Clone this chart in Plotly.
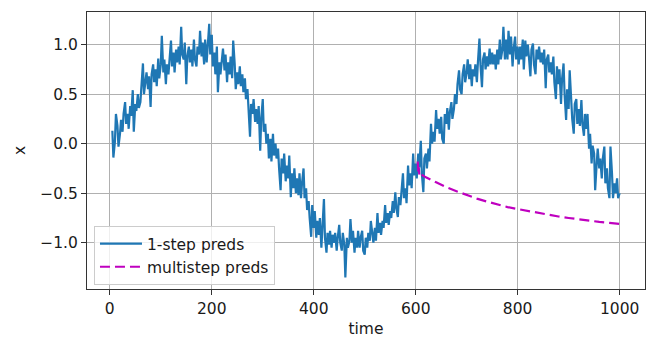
import plotly.graph_objects as go

# 1-step predictions, read at t = 5, 7, 10, 12, ..., 995, 997, 1000
onestep_time = []
for t in range(5, 1000, 5):
    onestep_time += [t, t + 2]
onestep_time.append(1000)

onestep_vals = [
    0.13, -0.14, 0.02, 0.30, 0.18, -0.03, 0.10, 0.24, 0.12, 0.30,
    0.42, 0.20, 0.30, 0.15, 0.38, 0.28, 0.54, 0.12, 0.40, 0.33,
    0.50, 0.36, 0.42, 0.55, 0.81, 0.50, 0.62, 0.72, 0.55, 0.68,
    0.37, 0.70, 0.80, 0.62, 0.75, 0.58, 0.86, 0.66, 0.80, 1.09,
    0.72, 0.85, 0.60, 0.80, 0.70, 0.88, 1.04, 0.78, 0.92, 0.72,
    0.95, 0.82, 0.98, 0.80, 1.18, 0.90, 0.85, 1.02, 0.60, 0.88,
    0.98, 0.82, 0.95, 0.78, 1.05, 0.85, 0.78, 0.98, 0.90, 1.14,
    0.88, 1.02, 0.80, 1.05, 0.82, 0.98, 1.21, 0.90, 1.10, 0.78,
    0.92, 0.70, 0.98, 0.52, 0.82, 0.70, 0.88, 0.96, 0.74, 0.90,
    0.62, 0.82, 0.70, 0.88, 0.66, 1.04, 0.80, 0.55, 0.72, 0.60,
    0.78, 0.58, 0.70, 0.52, 0.66, 0.45, 0.55, 0.30, 0.07, 0.40,
    0.30, 0.45, 0.22, 0.35, 0.20, 0.38, -0.07, 0.25, 0.45, 0.12,
    0.20, 0.00, 0.10, -0.15, 0.05, -0.18, 0.10, -0.12, 0.00, -0.15,
    -0.05, -0.25, -0.47, -0.15, -0.30, -0.10, -0.38, -0.22, -0.35, -0.12,
    -0.54, -0.30, -0.45, -0.25, -0.50, -0.35, -0.52, -0.30, -0.55, -0.40,
    -0.25, -0.55, -0.45, -0.67, -0.58, -0.75, -0.94, -0.62, -0.85, -0.68,
    -0.95, -0.78, -0.92, -0.75, -1.05, -0.85, -0.56, -0.95, -1.10, -0.90,
    -1.02, -0.88, -1.05, -0.92, -1.00, -0.90, -1.08, -0.95, -0.82, -1.00,
    -1.08, -0.90, -1.02, -1.35, -0.95, -1.05, -0.98, -0.76, -1.00, -0.88,
    -1.10, -0.95, -1.05, -0.88, -1.05, -0.95, -0.88, -1.08, -1.12, -0.95,
    -1.05, -0.90, -0.98, -0.78, -0.92, -1.00, -0.85, -0.98, -0.70, -0.90,
    -0.80, -0.92, -0.78, -0.85, -0.62, -0.80, -0.70, -0.82, -0.68, -0.75,
    -0.58, -0.70, -0.49, -0.65, -0.74, -0.54, -0.62, -0.45, -0.30, -0.55,
    -0.45, -0.60, -0.22, -0.42, -0.30, -0.45, -0.10, -0.32, -0.20, -0.35,
    -0.10, -0.24, 0.03, -0.30, -0.49, -0.15, -0.10, -0.25, -0.05, -0.18,
    0.20, 0.00, 0.12, 0.02, 0.34, 0.15, 0.25, 0.10, 0.27, 0.05,
    0.00, 0.30, 0.20, 0.36, 0.14, 0.32, 0.42, 0.25, 0.35, 0.50,
    0.40, 0.60, 0.74, 0.55, 0.50, 0.70, 0.80, 0.62, 0.72, 0.85,
    0.65, 0.80, 0.58, 0.75, 0.68, 0.80, 0.62, 0.82, 1.06, 0.80,
    0.57, 0.85, 0.92, 0.75, 0.88, 0.78, 0.96, 0.80, 0.92, 0.80,
    0.90, 0.75, 0.95, 0.80, 1.05, 0.85, 0.95, 1.18, 0.85, 1.05,
    0.85, 1.14, 0.90, 1.08, 0.78, 0.95, 1.08, 0.85, 0.98, 0.80,
    0.98, 0.85, 1.05, 0.75, 1.04, 0.88, 1.00, 0.88, 0.68, 0.95,
    1.01, 0.80, 0.70, 0.95, 0.85, 0.98, 0.82, 0.92, 0.80, 0.95,
    0.56, 0.85, 0.90, 0.72, 0.82, 0.70, 0.88, 0.62, 0.45, 0.78,
    0.60, 0.75, 0.40, 0.65, 0.81, 0.50, 0.24, 0.55, 0.35, 0.74,
    0.40, 0.25, 0.10, 0.40, 0.45, 0.20, 0.35, 0.18, 0.44, 0.20,
    0.08, 0.30, 0.15, 0.30, -0.05, 0.10, -0.20, -0.02, -0.10, -0.47,
    -0.20, -0.05, -0.25, -0.15, -0.35, -0.15, -0.03, -0.40, -0.25, -0.45,
    -0.55, -0.03, -0.30, -0.55, -0.40, -0.50, -0.35, -0.55, -0.50,
]

# multistep predictions (t = 604 ... 1000)
multi_time = [604, 605, 606, 607, 608, 610, 620, 640, 660, 680, 700, 720, 740,
              760, 780, 800, 820, 840, 860, 880, 900, 920, 940, 960, 980, 1000]
multi_vals = [-0.18, -0.30, -0.24, -0.31, -0.29, -0.31, -0.34, -0.39, -0.44, -0.48,
              -0.52, -0.555, -0.585, -0.615, -0.64, -0.66, -0.68, -0.70, -0.72,
              -0.735, -0.75, -0.765, -0.78, -0.79, -0.80, -0.81]

x_ticks = [0, 200, 400, 600, 800, 1000]
x_ticklabels = ["0", "200", "400", "600", "800", "1000"]
y_ticks = [-1.0, -0.5, 0.0, 0.5, 1.0]
y_ticklabels = ["\u22121.0", "\u22120.5", "0.0", "0.5", "1.0"]

FONT = "DejaVu Sans"
FS = 15.5
TXT = "#1a1a1a"

n = min(len(onestep_time), len(onestep_vals))

fig = go.Figure()
fig.add_trace(go.Scatter(x=onestep_time[:n], y=onestep_vals[:n], mode="lines",
                         name="1-step preds",
                         line=dict(color="#1f77b4", width=2.2)))
fig.add_trace(go.Scatter(x=multi_time, y=multi_vals, mode="lines",
                         name="multistep preds",
                         line=dict(color="#bf00bf", width=2.2, dash="10px,5px")))

axis_common = dict(showgrid=True, gridcolor="#b0b0b0", gridwidth=0.8,
                   showline=True, linecolor="#333333", linewidth=1, mirror=True,
                   ticks="outside", ticklen=5, tickcolor="#333333",
                   zeroline=False, tickfont=dict(family=FONT, size=FS, color=TXT))

fig.update_xaxes(range=[-44.75, 1049.75], tickvals=x_ticks, ticktext=x_ticklabels,
                 title=dict(text="time", font=dict(family=FONT, size=FS, color=TXT),
                            standoff=6),
                 **axis_common)
fig.update_yaxes(range=[-1.467, 1.329], tickvals=y_ticks, ticktext=y_ticklabels,
                 title=dict(text="x", font=dict(family=FONT, size=FS, color=TXT),
                            standoff=10),
                 **axis_common)

fig.update_layout(
    width=657, height=352,
    margin=dict(l=87, r=12, t=12, b=63),
    plot_bgcolor="white", paper_bgcolor="white",
    font=dict(family=FONT, size=FS, color=TXT),
    legend=dict(x=0.0125, y=0.0144, xanchor="left", yanchor="bottom",
                bgcolor="rgba(255,255,255,0.8)", bordercolor="#cccccc", borderwidth=1,
                font=dict(family=FONT, size=FS, color=TXT),
                itemwidth=42, tracegroupgap=0),
    showlegend=True,
)

fig.write_html("out.html")
